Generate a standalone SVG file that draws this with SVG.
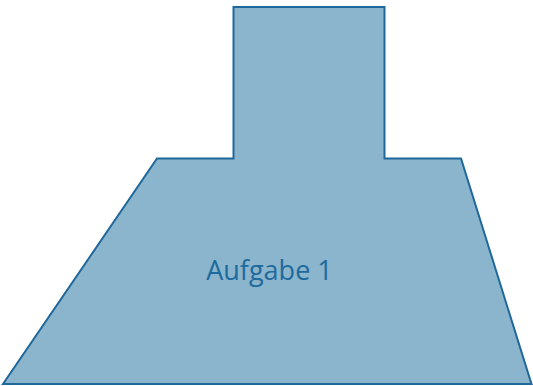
<svg xmlns="http://www.w3.org/2000/svg" width="533" height="386" viewBox="0 0 533 386">
<style>
.shape{fill:#8ab5cd;stroke:#21689a;stroke-width:2;stroke-linejoin:miter}
.lbl{font-family:"Open Sans",sans-serif;font-size:27px;fill:#1f6a9c;text-anchor:middle}
</style>
<rect width="533" height="386" fill="#ffffff"/>
<g id="node1">
<polygon class="shape" points="233.5,7 384.5,7 384.5,158.5 461,158.5 531.5,384 3,384 157,158.5 233.5,158.5"/>
<text class="lbl" x="269.5" y="280">Aufgabe 1</text>
</g>
<g id="connectors"/>
</svg>
